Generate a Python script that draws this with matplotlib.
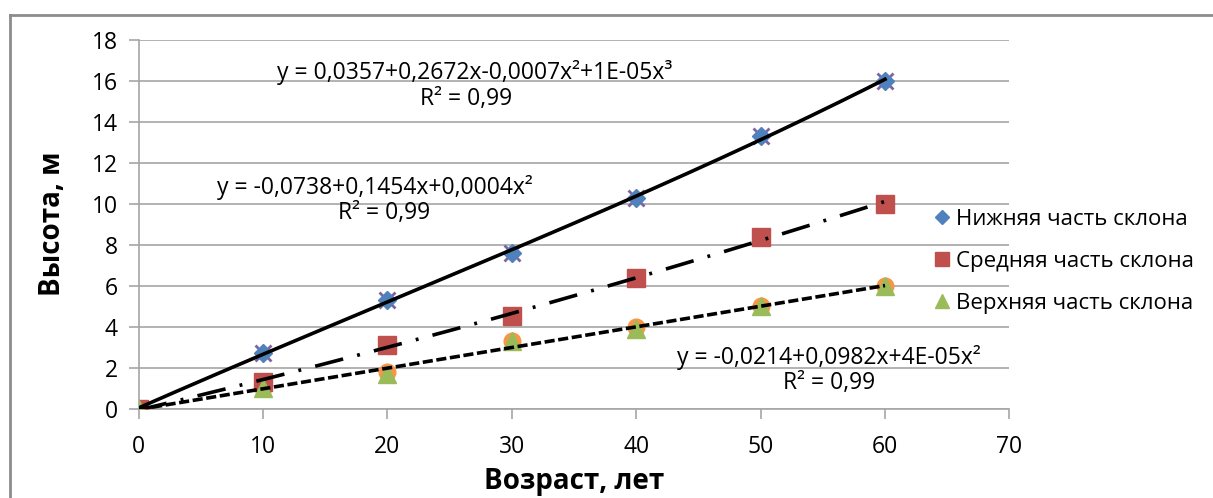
import numpy as np
import matplotlib
matplotlib.use("Agg")
import matplotlib.pyplot as plt
from matplotlib.lines import Line2D

plt.rcParams['font.family'] = ['Open Sans', 'DejaVu Sans']

# data
age = [0, 10, 20, 30, 40, 50, 60]
lower = [0, 2.7, 5.3, 7.6, 10.3, 13.3, 16.0]
middle = [0, 1.3, 3.1, 4.5, 6.4, 8.4, 10.0]
upper = [0, 1.0, 1.7, 3.3, 3.9, 5.0, 6.0]
# hidden helper series drawn under the visible ones
lower_x = [0, 2.7, 5.3, 7.6, 10.3, 13.3, 16.0]
upper_o = [0, 1.0, 1.8, 3.3, 4.0, 5.0, 6.0]

labels = ["Нижняя часть склона", "Средняя часть склона", "Верхняя часть склона"]
eq_lower = "y = 0,0357+0,2672x-0,0007x\u00b2+1E-05x\u00b3"
eq_middle = "y = -0,0738+0,1454x+0,0004x\u00b2"
eq_upper = "y = -0,0214+0,0982x+4E-05x\u00b2"
r2 = "R\u00b2 = 0,99"

BLUE = "#4F81BD"
RED = "#C0504D"
GREEN = "#9BBB59"
PURPLE = "#8064A2"
ORANGE = "#F79646"
GRID = "#A6A6A6"

fig = plt.figure(figsize=(12.13, 4.98), dpi=100)
ax = fig.add_axes([0.1142, 0.1793, 0.7180, 0.7410])

ax.plot(age, lower_x, "x", color=PURPLE, ms=11, mew=2, zorder=2)
ax.plot(age, upper_o, "o", color=ORANGE, ms=12, zorder=2)
h1, = ax.plot(age, lower, "D", color=BLUE, ms=9, zorder=3, label=labels[0])
h2, = ax.plot(age, middle, "s", color=RED, ms=13, zorder=3, label=labels[1])
h3, = ax.plot(age, upper, "^", color=GREEN, ms=13, zorder=3, label=labels[2])

# trend lines fitted to the data
xs = np.linspace(0, 60, 200)
ax.plot(xs, np.polyval(np.polyfit(age, lower, 3), xs), color="black", lw=2.6, zorder=4)
ax.plot(xs, np.polyval(np.polyfit(age, middle, 2), xs), color="black", lw=2.6,
        ls=(0, (8, 4, 0.8, 4)), zorder=4)
ax.plot(xs, np.polyval(np.polyfit(age, upper, 2), xs), color="black", lw=2.6,
        ls=(0, (2.8, 1.0)), zorder=4)

fs = 16.5
ax.text(27.0, 16.4, eq_lower, ha="center", va="center", fontsize=fs)
ax.text(26.3, 15.1, r2, ha="center", va="center", fontsize=fs)
ax.text(19.0, 10.8, eq_middle, ha="center", va="center", fontsize=fs)
ax.text(19.7, 9.55, r2, ha="center", va="center", fontsize=fs)
ax.text(55.5, 2.5, eq_upper, ha="center", va="center", fontsize=fs)
ax.text(55.5, 1.25, r2, ha="center", va="center", fontsize=fs)

ax.set_xlim(0, 70)
ax.set_ylim(0, 18)
ax.set_xticks(range(0, 71, 10))
ax.set_yticks(range(0, 19, 2))
ax.tick_params(axis="both", labelsize=16.5, color=GRID, length=7, width=1.2)
ax.tick_params(axis="y", pad=8)
ax.tick_params(axis="x", pad=12)
ax.grid(axis="y", color=GRID, lw=1.2)
ax.set_axisbelow(True)
for s in ["top", "right"]:
    ax.spines[s].set_visible(False)
for s in ["left", "bottom"]:
    ax.spines[s].set_color(GRID)
    ax.spines[s].set_linewidth(1.2)

ax.set_xlabel("Возраст, лет", fontsize=20, fontweight="bold", labelpad=6)
ax.set_ylabel("Высота, м", fontsize=20, fontweight="bold", labelpad=18)

fig.legend(handles=[h1, h2, h3], loc="center left", bbox_to_anchor=(0.755, 0.475),
           frameon=False, fontsize=16, labelspacing=0.95, handlelength=0.6,
           handletextpad=0.3, markerscale=0.75)

# outer chart frame
fig.add_artist(Line2D([10 / 1213, 1], [1 - 15 / 498, 1 - 15 / 498], color="#8C8C8C", lw=2))
fig.add_artist(Line2D([10 / 1213, 10 / 1213], [0, 1 - 15 / 498], color="#8C8C8C", lw=2))

fig.savefig("out.png", dpi=100)
